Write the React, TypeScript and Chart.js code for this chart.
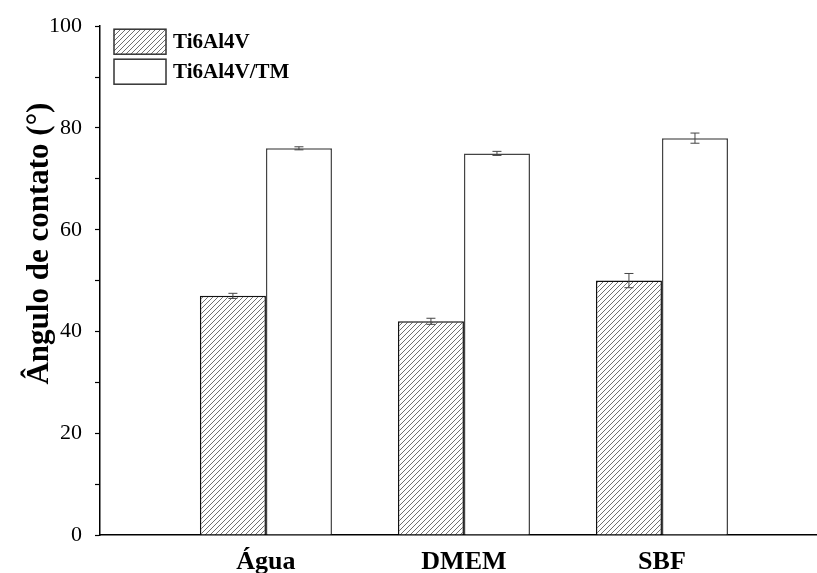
import React, { useEffect, useRef } from 'react';
import { Chart, registerables } from 'chart.js';

Chart.register(...registerables);

const categories = ['Água', 'DMEM', 'SBF'];
const seriesNames = ['Ti6Al4V', 'Ti6Al4V/TM'];
const ti6al4vValues = [47, 42, 50];
const ti6al4vErrors = [0.5, 0.6, 1.4];
const ti6al4vTMValues = [76, 75, 78];
const ti6al4vTMErrors = [0.3, 0.4, 1.0];
const yMin = 0;
const yMax = 100;
const yStep = 10;
const yLabelStep = 20;
const xMin = -0.838;
const xMax = 2.783;
const yTitle = 'Ângulo de contato (°)';

const SERIF = "'Liberation Serif', 'Times New Roman', serif";

function makeHatch(ctx: CanvasRenderingContext2D) {
  const s = 5;
  const c = document.createElement('canvas');
  c.width = s;
  c.height = s;
  const g = c.getContext('2d')!;
  g.fillStyle = '#ffffff';
  g.fillRect(0, 0, s, s);
  g.strokeStyle = '#707070';
  g.lineWidth = 1;
  g.beginPath();
  g.moveTo(0, s);
  g.lineTo(s, 0);
  g.moveTo(-1, 1);
  g.lineTo(1, -1);
  g.moveTo(s - 1, s + 1);
  g.lineTo(s + 1, s - 1);
  g.stroke();
  return ctx.createPattern(c, 'repeat');
}

const errorBarsPlugin = {
  id: 'errorBars',
  afterDatasetsDraw(chart: any) {
    const ctx = chart.ctx;
    const ys = chart.scales.y;
    chart.data.datasets.forEach((ds: any, di: number) => {
      const meta = chart.getDatasetMeta(di);
      meta.data.forEach((bar: any, i: number) => {
        const v = ds.data[i].y;
        const e = ds.errors[i];
        const x = bar.x;
        const top = ys.getPixelForValue(v + e);
        const bot = ys.getPixelForValue(v - e);
        ctx.save();
        ctx.strokeStyle = '#444';
        ctx.lineWidth = 1;
        ctx.beginPath();
        ctx.moveTo(x, top);
        ctx.lineTo(x, bot);
        ctx.moveTo(x - 4.5, top);
        ctx.lineTo(x + 4.5, top);
        ctx.moveTo(x - 4.5, bot);
        ctx.lineTo(x + 4.5, bot);
        ctx.stroke();
        ctx.restore();
      });
    });
  },
};

const legendPlugin = {
  id: 'customLegend',
  afterDraw(chart: any) {
    const ctx = chart.ctx;
    const area = chart.chartArea;
    chart.data.datasets.forEach((ds: any, i: number) => {
      const bx = area.left + 14;
      const by = area.top + 3 + i * 30;
      const bw = 52;
      const bh = 25;
      ctx.save();
      ctx.fillStyle = ds.backgroundColor;
      ctx.fillRect(bx, by, bw, bh);
      ctx.strokeStyle = '#333';
      ctx.lineWidth = 1.5;
      ctx.strokeRect(bx, by, bw, bh);
      ctx.fillStyle = '#000';
      ctx.font = `bold 21px ${SERIF}`;
      ctx.textAlign = 'left';
      ctx.textBaseline = 'middle';
      ctx.fillText(ds.label, bx + 59, by + bh / 2 + 1);
      ctx.restore();
    });
  },
};

const yTitlePlugin = {
  id: 'yTitle',
  afterDraw(chart: any) {
    const ctx = chart.ctx;
    const area = chart.chartArea;
    ctx.save();
    ctx.translate(area.left - 60, (area.top + area.bottom) / 2 - 37);
    ctx.rotate(-Math.PI / 2);
    ctx.fillStyle = '#000';
    ctx.font = `bold 31px ${SERIF}`;
    ctx.textAlign = 'center';
    ctx.textBaseline = 'middle';
    ctx.fillText(yTitle, 0, 0);
    ctx.restore();
  },
};

export default function App() {
  const ref = useRef<HTMLCanvasElement | null>(null);

  useEffect(() => {
    const canvas = ref.current!;
    const ctx = canvas.getContext('2d')!;
    const hatch = makeHatch(ctx);
    const chart = new Chart(ctx, {
      type: 'bar',
      data: {
        datasets: [
          {
            label: seriesNames[0],
            data: ti6al4vValues.map((y, i) => ({ x: i, y })),
            errors: ti6al4vErrors,
            backgroundColor: hatch,
            borderColor: '#111',
            borderWidth: 1.5,
          } as any,
          {
            label: seriesNames[1],
            data: ti6al4vTMValues.map((y, i) => ({ x: i, y })),
            errors: ti6al4vTMErrors,
            backgroundColor: '#ffffff',
            borderColor: '#444',
            borderWidth: 1.5,
          } as any,
        ],
      },
      options: {
        responsive: false,
        animation: false,
        devicePixelRatio: 1,
        categoryPercentage: 0.667,
        barPercentage: 1,
        layout: { padding: { top: 22, left: 0, right: 0, bottom: 0 } },
        plugins: {
          legend: { display: false },
          tooltip: { enabled: false },
        },
        scales: {
          x: {
            type: 'linear',
            position: 'bottom',
            offset: false,
            min: xMin,
            max: xMax,
            grid: { display: false, drawTicks: false, offset: false },
            border: { display: true, color: '#000', width: 1.5 },
            ticks: {
              stepSize: 1,
              includeBounds: false,
              autoSkip: false,
              maxRotation: 0,
              padding: 12,
              color: '#000',
              font: { family: SERIF, size: 26, weight: 'bold' },
              callback: (v: any) => (Number.isInteger(v) && categories[v] ? categories[v] : ''),
            },
            afterFit: (s: any) => {
              s.height = 38;
            },
          },
          y: {
            min: yMin,
            max: yMax,
            grid: {
              display: true,
              drawOnChartArea: false,
              drawTicks: true,
              tickLength: 5,
              tickColor: '#000',
              tickWidth: 1.2,
            },
            border: { display: true, color: '#000', width: 1.5 },
            ticks: {
              stepSize: yStep,
              autoSkip: false,
              padding: 13,
              color: '#000',
              font: { family: SERIF, size: 22 },
              callback: (v: any) => (v % yLabelStep === 0 ? String(v) : ''),
            },
            afterFit: (s: any) => {
              s.width = 100;
            },
          },
        },
      } as any,
      plugins: [errorBarsPlugin, legendPlugin, yTitlePlugin],
    });
    return () => chart.destroy();
  }, []);

  return (
    <div style={{ position: 'absolute', left: 0, top: 0, width: 817, height: 573, background: '#fff' }}>
      <canvas ref={ref} width={817} height={573} style={{ display: 'block' }} />
    </div>
  );
}
